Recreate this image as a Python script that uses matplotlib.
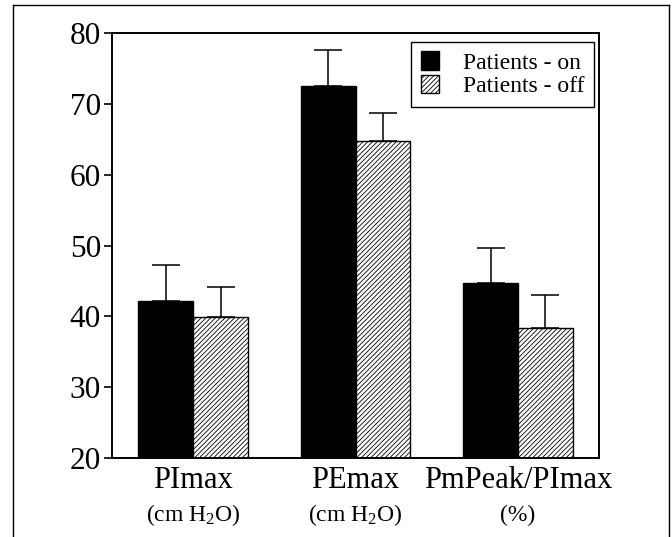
import matplotlib
matplotlib.use("Agg")
import matplotlib.pyplot as plt
import numpy as np
from matplotlib.lines import Line2D

plt.rcParams['font.family'] = ['Liberation Serif', 'DejaVu Serif']
plt.rcParams['mathtext.fontset'] = 'custom'
plt.rcParams['mathtext.rm'] = 'Liberation Serif'
plt.rcParams['mathtext.it'] = 'Liberation Serif:italic'
plt.rcParams['hatch.linewidth'] = 0.6

categories = ["PImax", "PEmax", "PmPeak/PImax"]
units = ["(cm H$_\\mathrm{2}$O)", "(cm H$_\\mathrm{2}$O)", "(%)"]
series_names = ["Patients - on", "Patients - off"]
on_values = [42.2, 72.5, 44.7]
on_err = [5.1, 5.1, 5.0]
off_values = [39.9, 64.8, 38.4]
off_err = [4.3, 3.9, 4.6]
yticks = [20, 30, 40, 50, 60, 70, 80]

fig = plt.figure(figsize=(6.72, 5.37), dpi=100)
ax = fig.add_axes([0.1667, 0.1471, 0.7247, 0.7914])

x = np.arange(len(categories))
w = 0.337
ax.bar(x - w/2, on_values, w, color='black', edgecolor='black',
       linewidth=1, label=series_names[0], zorder=2)
ax.bar(x + w/2, off_values, w, color='white', edgecolor='black',
       hatch='///////', linewidth=1, label=series_names[1], zorder=2)
ax.errorbar(x - w/2, on_values, yerr=[np.zeros(3), on_err], fmt='none',
            ecolor='black', elinewidth=1.1, capsize=10, capthick=1.1, zorder=1)
ax.errorbar(x + w/2, off_values, yerr=[np.zeros(3), off_err], fmt='none',
            ecolor='black', elinewidth=1.1, capsize=10, capthick=1.1, zorder=1)

ax.set_xlim(-0.5, 2.5)
ax.set_ylim(20, 80)
ax.set_yticks(yticks)
ax.set_yticklabels([str(v) for v in yticks], fontsize=22.5)
ax.tick_params(axis='y', direction='out', length=6, width=1.2, pad=2)
ax.set_xticks(x)
ax.set_xticklabels(categories, fontsize=22)
ax.tick_params(axis='x', length=0, pad=6)
for s in ax.spines.values():
    s.set_linewidth(1.4)

for xi, u in zip(x, units):
    ax.text(xi, -0.135, u, transform=ax.get_xaxis_transform(), ha='center',
            va='center', fontsize=17)

leg = ax.legend(loc='upper right', bbox_to_anchor=(0.9897, 0.9788),
                borderaxespad=0, fancybox=False, framealpha=1, fontsize=17,
                handlelength=0.8, handleheight=0.8, handletextpad=1.0,
                borderpad=0.4, labelspacing=0.05)
leg.get_frame().set_edgecolor('black')
leg.get_frame().set_linewidth(1.0)

# outer frame
fl, fr, ft, fb = 13/672, 669/672, 1 - 5/537, 0.0
fig.add_artist(Line2D([fl, fl], [fb, ft], transform=fig.transFigure, color='black', lw=1))
fig.add_artist(Line2D([fl, fr], [ft, ft], transform=fig.transFigure, color='black', lw=1))
fig.add_artist(Line2D([fr, fr], [fb, ft], transform=fig.transFigure, color='black', lw=1))

fig.savefig("out.png", dpi=100)
